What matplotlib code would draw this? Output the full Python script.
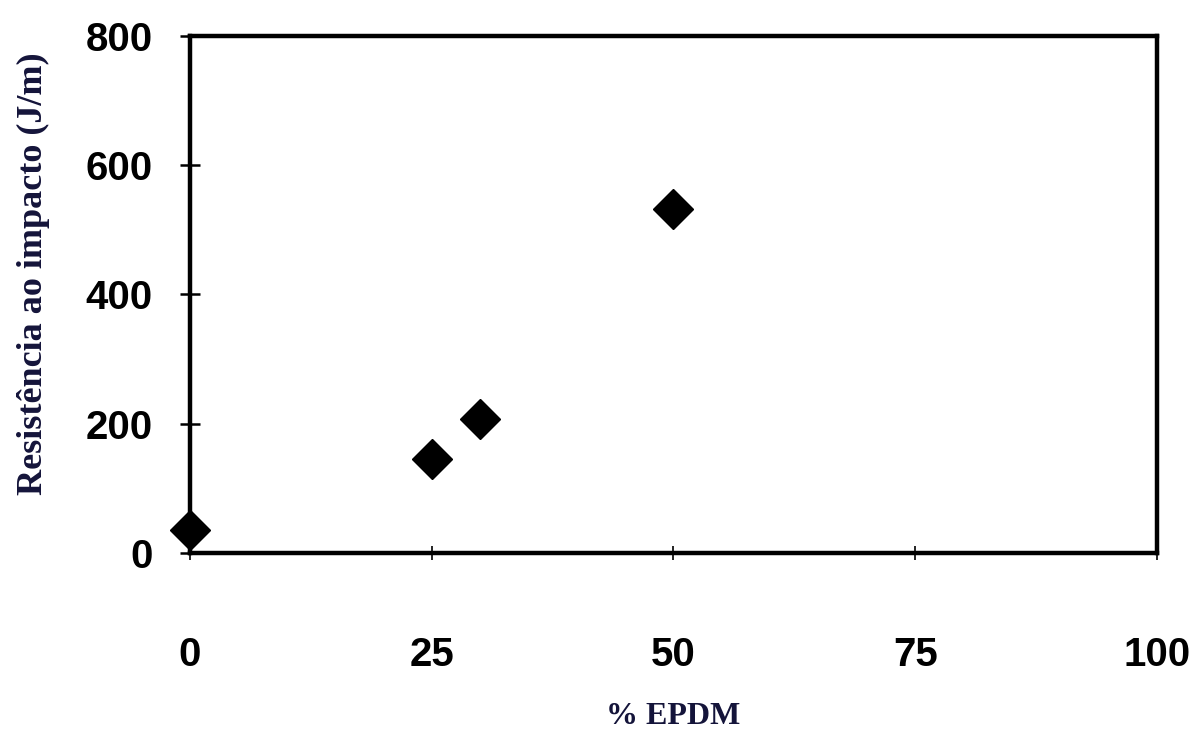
import matplotlib.pyplot as plt

epdm = [0, 25, 30, 50]
impacto = [35, 145, 207, 532]
xticks = [0, 25, 50, 75, 100]
yticks = [0, 200, 400, 600, 800]

label_color = '#14143a'

fig = plt.figure(figsize=(12.02, 7.31), dpi=100)
ax = fig.add_axes([0.158, 0.2435, 0.8046, 0.7073])

ax.plot(epdm, impacto, linestyle='none', marker='D', markersize=20,
        color='black', clip_on=False, zorder=3)

ax.set_xlim(0, 100)
ax.set_ylim(0, 800)
ax.set_xticks(xticks)
ax.set_yticks(yticks)

for s in ax.spines.values():
  s.set_linewidth(3.2)
  s.set_color('black')

ax.tick_params(axis='y', direction='inout', length=14, width=1.8, pad=20,
               labelsize=29)
ax.tick_params(axis='x', direction='inout', length=10, width=1.2, pad=55,
               labelsize=29)
for lab in ax.get_xticklabels() + ax.get_yticklabels():
  lab.set_fontfamily('Liberation Sans')
  lab.set_fontweight('bold')

ax.set_xlabel('% EPDM', fontfamily='Liberation Serif', fontweight='bold',
              fontsize=23, color=label_color)
ax.set_ylabel('Resistência ao impacto (J/m)', fontfamily='Liberation Serif',
              fontweight='bold', fontsize=26, color=label_color)
ax.xaxis.set_label_coords(0.5, -0.288)
ax.yaxis.set_label_coords(-0.145, 0.54)

fig.savefig('out.png', dpi=100, facecolor='white')
